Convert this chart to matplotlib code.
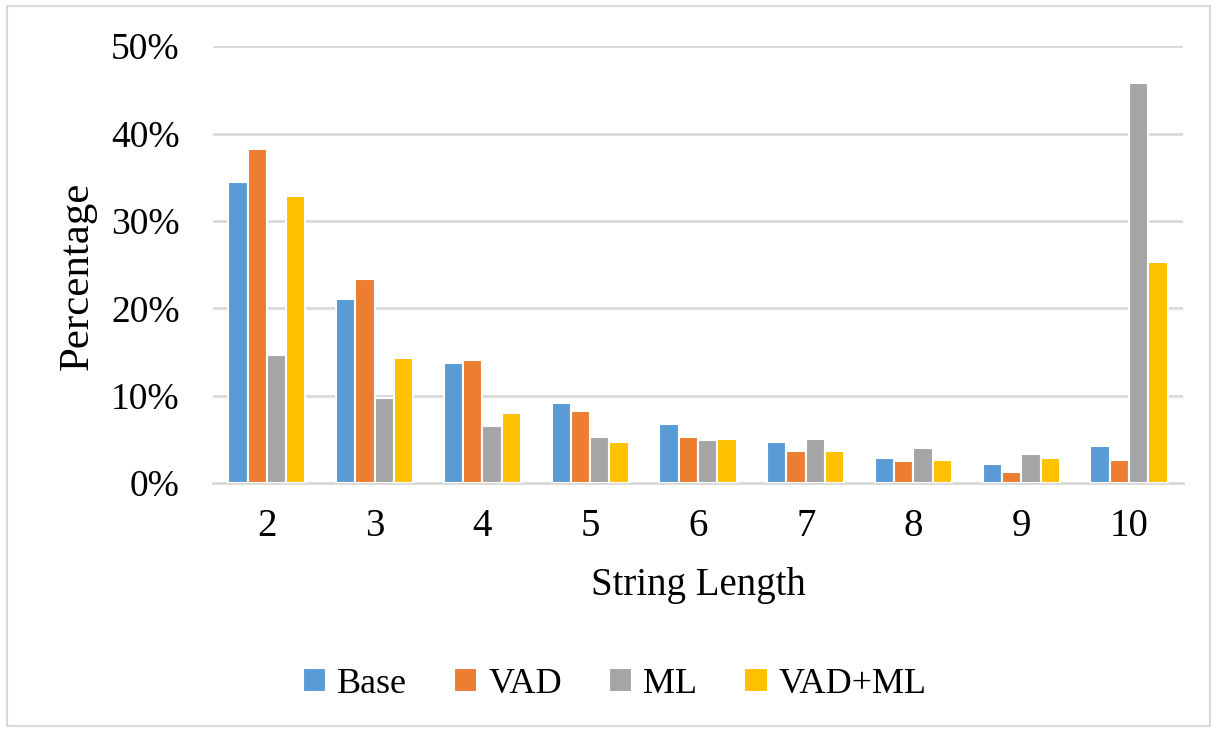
import numpy as np
import matplotlib.pyplot as plt
from matplotlib.patches import Rectangle

plt.rcParams['font.family'] = ['Liberation Serif', 'DejaVu Serif']

lengths = ['2', '3', '4', '5', '6', '7', '8', '9', '10']
series = ['Base', 'VAD', 'ML', 'VAD+ML']
base = [34.5, 21.1, 13.7, 9.2, 6.8, 4.7, 2.9, 2.2, 4.2]
vad = [38.2, 23.4, 14.1, 8.2, 5.3, 3.7, 2.5, 1.3, 2.6]
ml = [14.7, 9.7, 6.5, 5.3, 4.9, 5.1, 4.0, 3.3, 45.8]
vad_ml = [32.8, 14.3, 8.0, 4.7, 5.1, 3.7, 2.6, 2.9, 25.3]
colors = ['#5B9BD5', '#ED7D31', '#A5A5A5', '#FFC000']

fig = plt.figure(figsize=(12.17, 7.32), dpi=100)
ax = fig.add_axes([0.175, 0.340, 0.797, 0.597])

x = np.arange(len(lengths))
step = 0.179
for i, (name, vals) in enumerate(zip(series, [base, vad, ml, vad_ml])):
    ax.bar(x + (i - 1.5) * step, np.array(vals) / 100, width=step,
           color=colors[i], edgecolor='white', linewidth=1.5, label=name, zorder=3)

ax.set_xlim(-0.5, len(lengths) - 0.5)
ax.set_ylim(0, 0.5)
ax.set_yticks(np.arange(0, 0.51, 0.1))
ax.set_yticklabels([f'{int(round(v * 100))}%' for v in np.arange(0, 0.51, 0.1)])
ax.set_xticks(x)
ax.set_xticklabels(lengths)
ax.tick_params(axis='both', length=0, colors='black')
ax.tick_params(axis='x', pad=18, labelsize=28)
ax.tick_params(axis='y', pad=24, labelsize=27)
ax.yaxis.grid(True, color='#d9d9d9', linewidth=2, zorder=0)
for s in ['top', 'right', 'left']:
    ax.spines[s].set_visible(False)
ax.spines['bottom'].set_color('#d9d9d9')
ax.spines['bottom'].set_linewidth(2)

ax.set_xlabel('String Length', fontsize=28, labelpad=16)
ax.set_ylabel('Percentage', fontsize=31)
ax.yaxis.set_label_coords(-0.12, 0.475)

fig.legend(loc='center', bbox_to_anchor=(0.505, 0.065), ncol=4, frameon=False,
           fontsize=26, handlelength=0.65, handleheight=0.65, handletextpad=0.3,
           columnspacing=1.3)

fig.patches.append(Rectangle((0.006, 0.008), 0.988, 0.984, transform=fig.transFigure,
                             fill=False, edgecolor='#d9d9d9', linewidth=1.5))

fig.savefig('out.png', dpi=100)
